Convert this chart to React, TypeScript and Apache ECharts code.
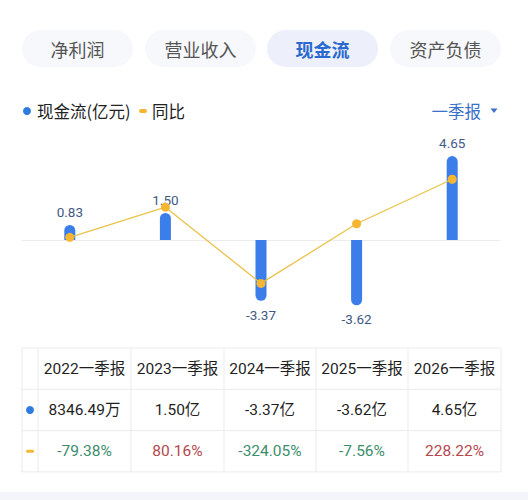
import React, { useEffect, useRef } from "react";
import * as echarts from "echarts";

const tabs = ["净利润", "营业收入", "现金流", "资产负债"];
const activeTab = 2;
const periods = ["2022一季报", "2023一季报", "2024一季报", "2025一季报", "2026一季报"];
const cashFlow = [0.834649, 1.5, -3.37, -3.62, 4.65]; // 亿元
const yoy = [-79.38, 80.16, -324.05, -7.56, 228.22]; // %
const legendNames = ["现金流(亿元)", "同比"];
const periodSelector = "一季报";

const BLUE = "#3b7de9";
const ORANGE = "#f5b731";
const FONT = "Roboto, 'Noto Sans CJK SC', sans-serif";
const CJK = "'Noto Sans CJK SC', sans-serif";

function fmtCash(v: number) {
  if (Math.abs(v) < 1) return (v * 10000).toFixed(2) + "万";
  return v.toFixed(2) + "亿";
}
function fmtPct(v: number) {
  return v.toFixed(2) + "%";
}

export default function App() {
  const ref = useRef<HTMLDivElement>(null);
  useEffect(() => {
    if (!ref.current) return;
    const chart = echarts.init(ref.current, undefined, { renderer: "svg" });
    const graphics: any[] = [];

    // tabs
    const tabX = [22, 145, 267, 390];
    const tabW = 111;
    tabs.forEach((t, i) => {
      const active = i === activeTab;
      graphics.push({
        type: "rect",
        shape: { x: tabX[i], y: 30, width: tabW, height: 37, r: 18.5 },
        style: { fill: active ? "#edf0fb" : "#f7f8fc" },
        silent: true,
      });
      graphics.push({
        type: "text",
        x: tabX[i] + tabW / 2,
        y: 48.5,
        style: {
          text: t,
          fill: active ? "#2a69cf" : "#555555",
          font: `${active ? "bold " : ""}18px ${CJK}`,
          align: "center",
          verticalAlign: "middle",
        },
      });
    });

    // legend
    graphics.push({ type: "circle", shape: { cx: 27, cy: 111, r: 4 }, style: { fill: "#2f7be0" } });
    graphics.push({
      type: "text", x: 37, y: 111,
      style: { text: legendNames[0], fill: "#222222", font: `16.5px ${CJK}`, verticalAlign: "middle" },
    });
    graphics.push({ type: "rect", shape: { x: 139, y: 109, width: 8, height: 4, r: 2 }, style: { fill: ORANGE } });
    graphics.push({
      type: "text", x: 152, y: 111,
      style: { text: legendNames[1], fill: "#222222", font: `16.5px ${CJK}`, verticalAlign: "middle" },
    });
    graphics.push({
      type: "text", x: 481, y: 111,
      style: { text: periodSelector, fill: "#3a70c8", font: `16.5px ${CJK}`, align: "right", verticalAlign: "middle" },
    });
    graphics.push({
      type: "polygon",
      shape: { points: [[490.5, 108.5], [497.5, 108.5], [494, 113]] },
      style: { fill: "#3a70c8" },
    });

    // table
    const tL = 22, tR = 501, tT = 348, rowH = 41.3;
    const colX = [22, 38, 131, 224, 316, 408, 501];
    const lineColor = "#ebebeb";
    for (let r = 0; r <= 3; r++) {
      graphics.push({
        type: "line",
        shape: { x1: tL, y1: tT + r * rowH, x2: tR, y2: tT + r * rowH },
        style: { stroke: lineColor, lineWidth: 1 },
      });
    }
    colX.forEach((x) => {
      graphics.push({
        type: "line",
        shape: { x1: x, y1: tT, x2: x, y2: tT + 3 * rowH },
        style: { stroke: lineColor, lineWidth: 1 },
      });
    });
    const rowMid = (r: number) => tT + r * rowH + rowH / 2;
    graphics.push({ type: "circle", shape: { cx: 30, cy: rowMid(1), r: 4 }, style: { fill: "#2f7be0" } });
    graphics.push({ type: "rect", shape: { x: 26, y: rowMid(2) - 1.5, width: 8, height: 3, r: 1.5 }, style: { fill: ORANGE } });
    periods.forEach((p, i) => {
      const cx = (colX[i + 1] + colX[i + 2]) / 2;
      graphics.push({
        type: "text", x: cx, y: rowMid(0),
        style: { text: p, fill: "#1f1f1f", font: `15.5px ${FONT}`, align: "center", verticalAlign: "middle" },
      });
      graphics.push({
        type: "text", x: cx, y: rowMid(1),
        style: { text: fmtCash(cashFlow[i]), fill: "#1f1f1f", font: `15.5px ${FONT}`, align: "center", verticalAlign: "middle" },
      });
      graphics.push({
        type: "text", x: cx, y: rowMid(2),
        style: {
          text: fmtPct(yoy[i]),
          fill: yoy[i] < 0 ? "#3b8d6c" : "#b5474d",
          font: `15.5px ${FONT}`, align: "center", verticalAlign: "middle",
        },
      });
    });

    // bottom band
    graphics.push({ type: "rect", shape: { x: 0, y: 492, width: 528, height: 8 }, style: { fill: "#f3f5fb" } });

    chart.setOption({
      animation: false,
      grid: { left: 22, right: 28, top: 140, bottom: 180 },
      xAxis: {
        type: "category",
        data: periods,
        axisLine: { lineStyle: { color: "#ececec", width: 1 } },
        axisTick: { show: false },
        axisLabel: { show: false },
        splitLine: { show: false },
      },
      yAxis: [
        { type: "value", min: -4.43, max: 5.537, show: false, splitLine: { show: false } },
        { type: "value", min: -518, max: 436.4, show: false, splitLine: { show: false } },
      ],
      series: [
        {
          type: "bar",
          barWidth: 11,
          data: cashFlow.map((v) => ({
            value: v,
            itemStyle: { borderRadius: v >= 0 ? [5.5, 5.5, 0, 0] : [0, 0, 5.5, 5.5] },
            label: { position: v >= 0 ? "top" : "bottom", distance: v >= 0 ? 6 : 7 },
          })),
          itemStyle: { color: BLUE },
          label: {
            show: true,
            formatter: (p: any) => Number(p.value).toFixed(2),
            color: "#3f5a84",
            fontSize: 13.5,
            fontFamily: FONT,
          },
          z: 2,
        },
        {
          type: "line",
          yAxisIndex: 1,
          data: yoy,
          symbol: "circle",
          symbolSize: 9,
          itemStyle: { color: ORANGE },
          lineStyle: { color: "#eac24b", width: 1.3 },
          z: 3,
        },
      ],
      graphic: graphics,
    });
    return () => chart.dispose();
  }, []);
  return (
    <div
      ref={ref}
      style={{ position: "fixed", left: 0, top: 0, width: 528, height: 500, background: "#ffffff" }}
    />
  );
}
